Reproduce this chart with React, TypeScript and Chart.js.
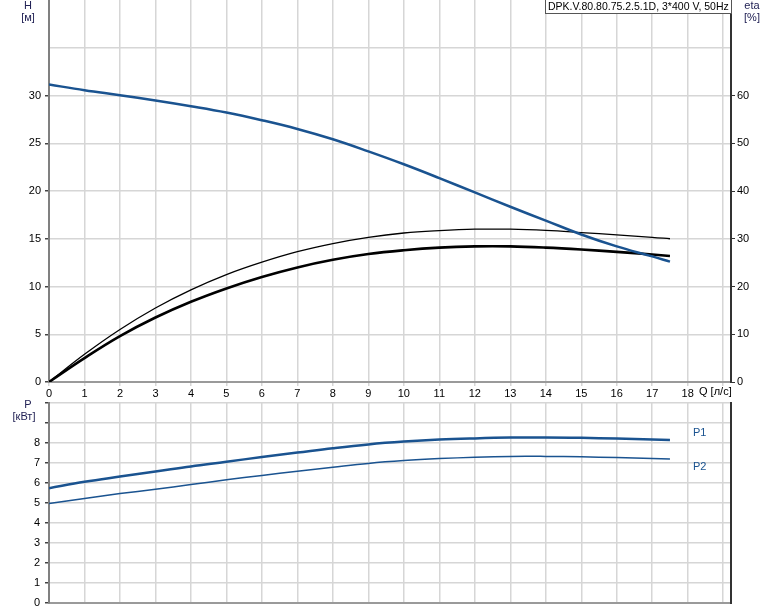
import { useEffect, useRef } from 'react';
import { Chart, registerables } from 'chart.js';
Chart.register(...registerables);

// ---- data ----
const Q = [0, 1, 2, 3, 4, 5, 6, 7, 8, 9, 10, 11, 12, 13, 14, 15, 16, 17, 17.5];
const H = [31.15, 30.56, 30.03, 29.48, 28.88, 28.22, 27.41, 26.5, 25.42, 24.15, 22.8, 21.35, 19.85, 18.35, 16.9, 15.45, 14.2, 13.15, 12.6];
const ETA_THIN = [0, 5.8, 11.0, 15.5, 19.3, 22.5, 25.1, 27.3, 29.0, 30.3, 31.2, 31.7, 32.0, 32.0, 31.75, 31.3, 30.8, 30.3, 30.0];
const ETA_THICK = [0, 5.0, 9.6, 13.5, 16.8, 19.6, 22.0, 24.0, 25.6, 26.8, 27.6, 28.15, 28.4, 28.4, 28.15, 27.75, 27.25, 26.7, 26.4];
const P1 = [5.74, 6.06, 6.32, 6.57, 6.83, 7.06, 7.3, 7.52, 7.74, 7.93, 8.07, 8.17, 8.23, 8.27, 8.28, 8.26, 8.22, 8.17, 8.15];
const P2 = [4.97, 5.23, 5.47, 5.69, 5.92, 6.16, 6.38, 6.59, 6.79, 6.98, 7.12, 7.22, 7.29, 7.33, 7.33, 7.31, 7.27, 7.23, 7.2];

const Q_MAX = 19.22;
const Q_LABEL_MAX = 18;
const H_MAX = 40;
const H_LABEL_MAX = 30;
const ETA_MAX = 80;
const ETA_LABEL_MAX = 60;
const P_MAX = 10;
const P_LABEL_MAX = 8;
const TITLE = 'DPK.V.80.80.75.2.5.1D, 3*400 V, 50Hz';
const Q_UNIT = 'Q [л/с]';

const FONT = '"Liberation Sans", Arial, sans-serif';
const BLUE = '#1a5390';
const GRID = '#d6d6d6';
const NONE = 'rgba(0,0,0,0)';

const pts = (ys: number[]) => ys.map((y, i) => ({ x: Q[i], y }));

const xAxisBase = (height: number, showLabels: boolean) => ({
  type: 'linear' as const,
  min: 0,
  max: Q_MAX,
  afterFit: (s: any) => { s.height = height; s.paddingLeft = 0; s.paddingRight = 0; },
  ticks: {
    display: showLabels,
    stepSize: 1,
    includeBounds: false,
    autoSkip: false,
    maxRotation: 0,
    padding: 1,
    color: '#000',
    font: { family: FONT, size: 11 },
    callback: (v: any) => (v <= Q_LABEL_MAX ? String(v) : ''),
  },
  grid: { color: GRID, lineWidth: 1.5, drawTicks: showLabels, tickLength: 4, tickColor: GRID },
  border: { color: '#9a9a9a', width: 2 },
});

function text(ctx: CanvasRenderingContext2D, s: string, x: number, y: number, align: CanvasTextAlign, color: string, size = 11) {
  ctx.save();
  ctx.font = `${size}px ${FONT}`;
  ctx.fillStyle = color;
  ctx.textAlign = align;
  ctx.textBaseline = 'middle';
  ctx.fillText(s, x, y);
  ctx.restore();
}

const lineDs = (ys: number[], axis: string, color: string, width: number) => ({
  data: pts(ys),
  yAxisID: axis,
  borderColor: color,
  borderWidth: width,
  pointRadius: 0,
  tension: 0.4,
  fill: false,
});

export default function App() {
  const topRef = useRef<HTMLCanvasElement>(null);
  const botRef = useRef<HTMLCanvasElement>(null);

  useEffect(() => {
    const top = new Chart(topRef.current!, {
      type: 'line',
      data: {
        datasets: [
          lineDs(H, 'y', BLUE, 2.5),
          lineDs(ETA_THIN, 'y2', '#000', 1.3),
          lineDs(ETA_THICK, 'y2', '#000', 2.6),
        ],
      },
      options: {
        responsive: false,
        animation: false,
        layout: { padding: 0 },
        plugins: { legend: { display: false }, tooltip: { enabled: false }, title: { display: false } },
        scales: {
          x: xAxisBase(16, true) as any,
          y: {
            position: 'left',
            min: 0,
            max: H_MAX,
            afterFit: (s: any) => { s.width = 49; s.paddingTop = 0; s.paddingBottom = 0; },
            ticks: {
              stepSize: 5,
              padding: 4,
              color: '#000',
              font: { family: FONT, size: 11 },
              callback: (v: any) => (v <= H_LABEL_MAX ? String(v) : ''),
            },
            grid: {
              color: (c: any) => (c.tick && c.tick.value >= H_MAX ? NONE : GRID),
              lineWidth: 1.5,
              tickLength: 4,
              tickColor: (c: any) => (c.tick && c.tick.value <= H_LABEL_MAX ? '#444' : NONE),
            },
            border: { color: '#808080', width: 2 },
          },
          y2: {
            position: 'right',
            min: 0,
            max: ETA_MAX,
            afterFit: (s: any) => { s.width = 43; s.paddingTop = 0; s.paddingBottom = 0; },
            ticks: {
              stepSize: 10,
              padding: 2,
              color: '#000',
              font: { family: FONT, size: 11 },
              callback: (v: any) => (v <= ETA_LABEL_MAX ? String(v) : ''),
            },
            grid: {
              drawOnChartArea: false,
              tickLength: 4,
              tickColor: (c: any) => (c.tick && c.tick.value <= ETA_LABEL_MAX ? '#333' : NONE),
            },
            border: { color: '#333', width: 2 },
          },
        },
      },
      plugins: [
        {
          id: 'topText',
          afterDraw(chart: any) {
            const ctx = chart.ctx as CanvasRenderingContext2D;
            text(ctx, 'H', 28, 6, 'center', '#222255');
            text(ctx, '[м]', 28, 18, 'center', '#222255');
            text(ctx, 'eta', 752, 6, 'center', '#222255');
            text(ctx, '[%]', 752, 18, 'center', '#222255');
            text(ctx, Q_UNIT, 699, 392, 'left', '#000');
            ctx.save();
            ctx.fillStyle = '#fff';
            ctx.fillRect(545.5, -0.5, 186, 14);
            ctx.strokeStyle = '#555';
            ctx.lineWidth = 1;
            ctx.strokeRect(545.5, -0.5, 186, 14);
            ctx.restore();
            text(ctx, TITLE, 548, 7, 'left', '#000', 10.5);
          },
        },
      ],
    } as any);

    const bot = new Chart(botRef.current!, {
      type: 'line',
      data: {
        datasets: [
          lineDs(P1, 'y', BLUE, 2.5),
          lineDs(P2, 'y', BLUE, 1.5),
        ],
      },
      options: {
        responsive: false,
        animation: false,
        layout: { padding: { top: 5, left: 0, right: 0, bottom: 0 } },
        plugins: { legend: { display: false }, tooltip: { enabled: false }, title: { display: false } },
        scales: {
          x: xAxisBase(8, false) as any,
          y: {
            position: 'left',
            min: 0,
            max: P_MAX,
            afterFit: (s: any) => { s.width = 49; s.paddingTop = 0; s.paddingBottom = 0; },
            ticks: {
              stepSize: 1,
              padding: 5,
              color: '#000',
              font: { family: FONT, size: 11 },
              callback: (v: any) => (v <= P_LABEL_MAX ? String(v) : ''),
            },
            grid: { color: GRID, lineWidth: 1.5, tickLength: 4, tickColor: '#444' },
            border: { color: '#808080', width: 2 },
          },
          yR: {
            position: 'right',
            min: 0,
            max: P_MAX,
            afterFit: (s: any) => { s.width = 43; s.paddingTop = 0; s.paddingBottom = 0; },
            ticks: { display: false },
            grid: { display: false },
            border: { color: '#333', width: 2 },
          },
        },
      },
      plugins: [
        {
          id: 'botText',
          afterDraw(chart: any) {
            const ctx = chart.ctx as CanvasRenderingContext2D;
            const oy = 398;
            text(ctx, 'P', 28, 405 - oy, 'center', '#222255');
            text(ctx, '[кВт]', 24, 417 - oy, 'center', '#222255');
            text(ctx, 'P1', 693, 433 - oy, 'left', BLUE);
            text(ctx, 'P2', 693, 467 - oy, 'left', BLUE);
          },
        },
      ],
    } as any);

    return () => {
      top.destroy();
      bot.destroy();
    };
  }, []);

  return (
    <div style={{ position: 'absolute', left: 0, top: 0, width: 774, height: 611, background: '#fff' }}>
      <canvas ref={topRef} width={774} height={398} style={{ position: 'absolute', left: 0, top: 0, width: 774, height: 398 }} />
      <canvas ref={botRef} width={774} height={213} style={{ position: 'absolute', left: 0, top: 398, width: 774, height: 213 }} />
    </div>
  );
}
